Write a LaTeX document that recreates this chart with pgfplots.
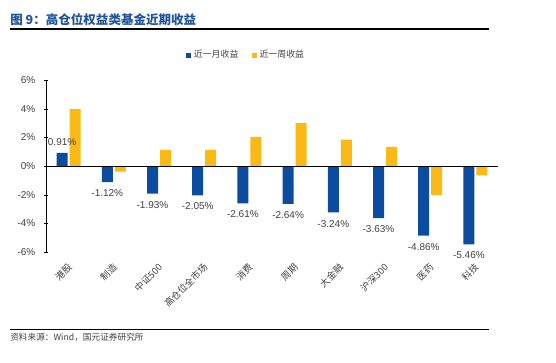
\documentclass[border=0pt]{standalone}
\usepackage{fontspec}
\setmainfont{Liberation Sans}
\newfontfamily\cjk{Noto Sans CJK SC}
\usepackage{pgfplots}
\pgfplotsset{compat=1.18}
\definecolor{barblue}{RGB}{12,76,160}
\definecolor{baryel}{RGB}{250,185,20}
\definecolor{titleblue}{RGB}{35,85,155}
\definecolor{txtgray}{RGB}{64,64,64}
\begin{document}
\begin{tikzpicture}[x=0.75pt,y=0.75pt]
\path[use as bounding box] (0,0) rectangle (556,362);
\node[anchor=west, inner sep=0, text=titleblue, font=\cjk\bfseries\fontsize{9.4}{10}\selectfont] at (10,342.5) {图 9：高仓位权益类基金近期收益};
\draw[line width=1pt] (10,333) -- (489,333);
\draw[line width=1pt] (10,32.5) -- (489,32.5);
\node[anchor=west, inner sep=0, font=\cjk\fontsize{6.5}{7}\selectfont, text=txtgray] at (10,25) {资料来源：Wind，国元证券研究所};
\begin{axis}[
  at={(34.5pt,82.5pt)}, anchor=south west, scale only axis,
  width=339pt, height=129pt,
  ybar=1.5pt, bar width=8.25pt,
  xmin=-0.5, xmax=9.5, ymin=-6, ymax=6,
  axis x line*=bottom, axis y line*=left,
  x axis line style={draw=none},
  xtick={0,...,9},
  xticklabels={港股,制造,中证500,高仓位全市场,消费,周期,大金融,沪深300,医药,科技},
  xtick style={draw=none},
  xticklabel style={rotate=45, anchor=east, font=\cjk\fontsize{7}{8}\selectfont, text=txtgray, yshift=-7pt, xshift=-2pt},
  ytick={-6,-4,-2,0,2,4,6},
  yticklabel={\pgfmathprintnumber{\tick}\%},
  yticklabel style={font=\fontsize{7.5}{8}\selectfont, text=txtgray, xshift=-3pt},
  ytick style={black},
  tick align=center, major tick length=3pt,
  /pgf/number format/assume math mode=true,
  legend style={at={(0.4436,1.145)}, anchor=center, draw=none, fill=none,
    legend columns=2, font=\cjk\fontsize{6.7}{7}\selectfont, text=txtgray,
    /tikz/every even column/.append style={column sep=8pt}},
  legend image code/.code={\fill[#1] (0pt,-2pt) rectangle (3.75pt,1.75pt);},
]
\addplot[fill=barblue, draw=none,
  nodes near coords={\pgfmathprintnumber[fixed,fixed zerofill,precision=2]{\pgfplotspointmeta}\%},
  nodes near coords style={font=\fontsize{7.5}{8}\selectfont, text=txtgray, inner ysep=5.5pt, inner xsep=0pt}]
  coordinates {(0,0.91) (1,-1.12) (2,-1.93) (3,-2.05) (4,-2.61) (5,-2.64) (6,-3.24) (7,-3.63) (8,-4.86) (9,-5.46)};
\addplot[fill=baryel, draw=none]
  coordinates {(0,3.96) (1,-0.40) (2,1.12) (3,1.12) (4,2.03) (5,3.00) (6,1.84) (7,1.33) (8,-2.03) (9,-0.65)};
\legend{近一月收益,近一周收益}
\draw[black, line width=0.75pt] (axis cs:-0.5,0) -- (axis cs:9.5,0);
\end{axis}
\end{tikzpicture}
\end{document}
